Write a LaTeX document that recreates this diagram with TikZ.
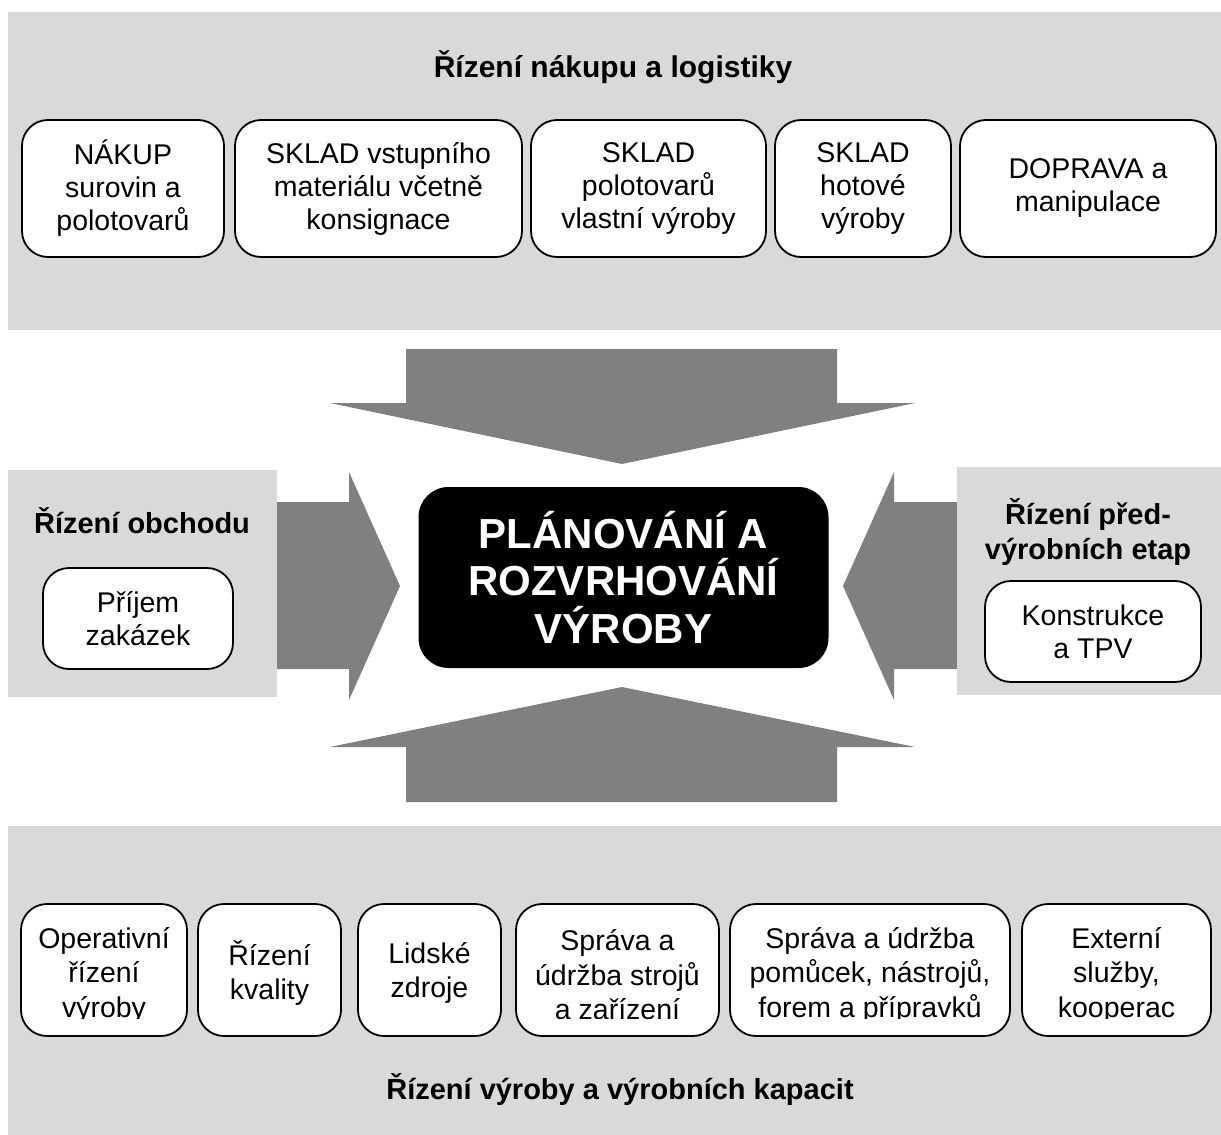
\documentclass[tikz,border=0pt]{standalone}
\usepackage{fontspec}
\setmainfont{Liberation Sans}
\definecolor{panelgray}{HTML}{D9D9D9}
\definecolor{arrowgray}{HTML}{808080}
\begin{document}
\begin{tikzpicture}[x=1pt,y=-1pt,
  panel/.style={fill=panelgray, draw=none},
  bigarrow/.style={fill=arrowgray, draw=none},
  item/.style={draw=black, line width=1.8pt, fill=white, rounded corners=26pt,
    inner sep=0pt, align=center, font=\fontsize{28.5}{33}\selectfont},
  itemtext/.style={inner sep=0pt, align=center, font=\fontsize{28.5}{34.5}\selectfont},
  heading/.style={inner sep=0pt, align=center, font=\bfseries\fontsize{29}{35}\selectfont},
  core/.style={fill=black, draw=none, rounded corners=30pt, inner sep=0pt,
    text=white, align=center, font=\bfseries\fontsize{42}{47.5}\selectfont}]
\useasboundingbox (0,0) rectangle (1221,1135);

% big grey arrows pointing at the centre
\fill[bigarrow] (406,349) -- (837,349) -- (837,403) -- (915,403) -- (622,464)
  -- (330,403) -- (406,403) -- cycle;
\fill[bigarrow] (622,687) -- (915,747) -- (837,747) -- (837,802) -- (406,802)
  -- (406,747) -- (330,747) -- cycle;
\fill[bigarrow] (260,502) -- (349,502) -- (349,472) -- (400,586) -- (349,700)
  -- (349,669) -- (260,669) -- cycle;
\fill[bigarrow] (970,502) -- (894,502) -- (894,472) -- (843,586) -- (894,700)
  -- (894,669) -- (970,669) -- cycle;

% background panels
\fill[panel] (8,12) rectangle (1221,330);
\fill[panel] (8,470) rectangle (277,697);
\fill[panel] (957,467) rectangle (1221,695);
\fill[panel] (8,826) rectangle (1221,1135);

% purchasing and logistics
\node[heading, font=\bfseries\fontsize{30}{35}\selectfont] (hTop) at (613,67)
  {Řízení nákupu a logistiky};
\node[item, minimum width=202pt, minimum height=137pt] (t1) at (123,188.5)
  {NÁKUP\\surovin a\\polotovarů};
\node[item, minimum width=287pt, minimum height=137pt] (t2) at (378.5,188.5)
  {SKLAD vstupního\\materiálu včetně\\konsignace};
\node[item, minimum width=235pt, minimum height=137pt] (t3) at (648.5,188.5)
  {SKLAD\\polotovarů\\vlastní výroby};
\node[item, minimum width=176pt, minimum height=137pt] (t4) at (863,188.5)
  {SKLAD\\hotové\\výroby};
\node[item, minimum width=256pt, minimum height=137pt] (t5) at (1088,188.5)
  {DOPRAVA a\\manipulace};

% sales
\node[heading] (hLeft) at (142,521) {Řízení obchodu};
\node[item, minimum width=190pt, minimum height=101pt] (l1) at (138,618.5)
  {Příjem\\zakázek};

% pre-production stages
\node[heading] (hRight) at (1088,532) {Řízení před-\\výrobních etap};
\node[item, minimum width=216pt, minimum height=101pt] (r1) at (1093,631.5)
  {Konstrukce\\a TPV};

% centre
\node[core, minimum width=410pt, minimum height=181pt] (core) at (623.5,577.5)
  {PLÁNOVÁNÍ A\\ROZVRHOVÁNÍ\\VÝROBY};

% production and capacities
\node[heading] (hBottom) at (620,1090) {Řízení výroby a výrobních kapacit};
\node[item, minimum width=166pt, minimum height=132pt] (b1) at (104,970) {};
\node[item, minimum width=143pt, minimum height=132pt] (b2) at (269.5,970) {};
\node[item, minimum width=143pt, minimum height=132pt] (b3) at (429.5,970) {};
\node[item, minimum width=203pt, minimum height=132pt] (b4) at (617.5,970) {};
\node[item, minimum width=280pt, minimum height=132pt] (b5) at (870,970) {};
\node[item, minimum width=189pt, minimum height=132pt] (b6) at (1116.5,970) {};
\begin{scope}
  \clip (0,880) rectangle (1221,1018);
  \node[itemtext] (b1t) at (b1 |- 0,975) {Operativní\\řízení\\výroby};
  \node[itemtext] (b2t) at (b2 |- 0,973) {Řízení\\kvality};
  \node[itemtext] (b3t) at (b3 |- 0,973) {Lidské\\zdroje};
  \node[itemtext] (b4t) at (b4 |- 0,975) {Správa a\\údržba strojů\\a zařízení};
  \node[itemtext] (b5t) at (b5 |- 0,975) {Správa a údržba\\pomůcek, nástrojů,\\forem a přípravků};
  \node[itemtext] (b6t) at (b6 |- 0,975) {Externí\\služby,\\kooperac};
\end{scope}
\end{tikzpicture}
\end{document}
